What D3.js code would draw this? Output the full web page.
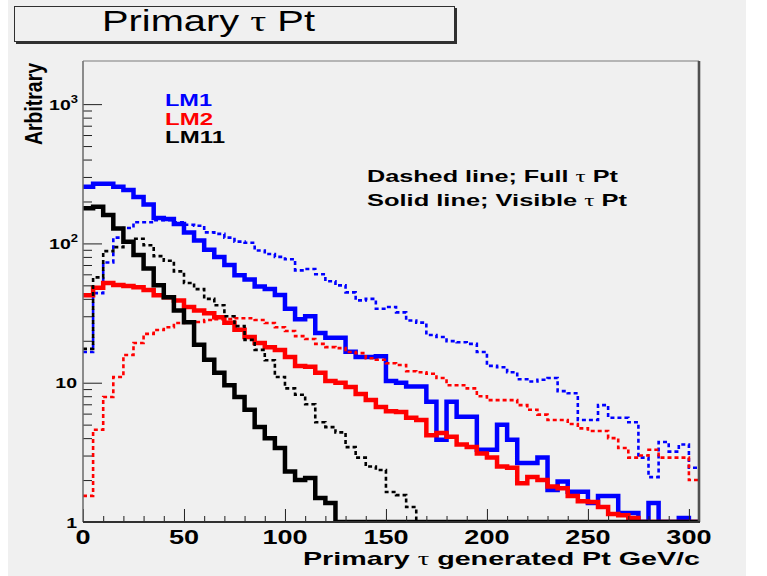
<!DOCTYPE html>
<html>
<head>
<meta charset="utf-8">
<script src="https://cdn.jsdelivr.net/npm/d3@7"></script>
<style>
  html, body { margin: 0; padding: 0; background: #ffffff; }
</style>
</head>
<body>
<svg id="chart" width="767" height="576"></svg>
<script>
// Histogram binning: 5 GeV/c bins from 0 to 305 GeV/c
const binWidth = 5;
const xMax = 305;

// LM1 (blue): visible tau Pt (solid) and full tau Pt (dashed)
const lm1Visible = [255, 268, 268, 255, 242, 215, 190, 152, 150, 138,
                    120, 105, 90, 80, 70, 59, 55, 49, 47, 42.6,
                    34, 28.5, 30, 22.7, 21, 21, 16.7, 15.3, 15.3, 15.5,
                    10.3, 10, 9.4, 9.4, 7.3, 3.9, 7.3, 5.7, 5.7, 3.3,
                    3.3, 5.0, 3.9, 2.65, 2.65, 2.9, 1.7, 1.95, 1.65, 1.65,
                    1.37, 1.54, 1.54, 1.16, 1.16, 0, 1.37, 0, 0, 1.07, 0];
const lm1Full = [16.6, 44, 73, 110, 129, 142, 142, 147, 147, 142,
                 136, 134, 120, 117, 110, 103, 101, 89, 84, 80,
                 77, 64, 65.5, 60, 53.5, 50, 44.5, 39, 40, 34,
                 35, 32, 28, 27, 22, 21.3, 19.9, 19.5, 19, 16.6,
                 13.2, 12.9, 11.9, 10.6, 10.2, 10.5, 10.8, 8.7, 8.4, 5.4,
                 5.4, 6.9, 5.6, 5.6, 5.2, 2.9, 2.1, 3.75, 3.2, 3.6, 2.45];

// LM2 (red)
const lm2Visible = [42.5, 48, 52, 50.3, 49.5, 48.5, 46.3, 42.5, 41, 39,
                    35, 33, 31.5, 29.5, 27, 24, 21.3, 19.3, 18, 17.2,
                    15.3, 13.2, 13, 11.8, 10.3, 10, 9.3, 8.3, 7.5, 6.7,
                    6.25, 6.15, 5.6, 5.4, 4.2, 4.35, 4.1, 3.6, 3.45, 3.1,
                    2.9, 2.5, 2.45, 1.9, 2.1, 2.0, 1.8, 1.75, 1.54, 1.41,
                    1.39, 1.28, 1.14, 1.12, 1.07, 0, 0, 0, 0, 0, 0];
const lm2Full = [1.54, 4.6, 7.9, 11, 15.8, 19.3, 22.4, 23.9, 25, 26.8,
                 27.3, 27.3, 28.2, 28.6, 28.6, 29, 29, 28.2, 26.8, 25,
                 23.5, 21.6, 20.6, 19, 18, 17.7, 16.6, 16.3, 15, 14.6,
                 13.8, 13.4, 12.1, 11.9, 11.6, 10.8, 9.6, 9.6, 9.1, 8.0,
                 7.5, 7.5, 7.5, 6.9, 6.4, 5.9, 5.4, 5.4, 5.05, 4.7,
                 4.5, 4.5, 4.0, 3.4, 2.9, 3.0, 3.3, 2.9, 2.9, 2.9, 2.0];

// LM11 (black)
const lm11Visible = [179, 183, 160, 128, 103, 82.6, 66, 50, 41, 33,
                     27.2, 18.7, 14.6, 11.8, 9.6, 7.9, 6.4, 4.8, 4.0, 3.4,
                     2.3, 2.0, 2.07, 1.49, 1.37, 0, 0, 0, 0, 0,
                     0, 0, 0, 0, 0, 0, 0, 0, 0, 0,
                     0, 0, 0, 0, 0, 0, 0, 0, 0, 0,
                     0, 0, 0, 0, 0, 0, 0, 0, 0, 0, 0];
const lm11Full = [17.5, 57, 88, 94, 103, 108, 97, 81, 75, 63,
                  52, 47, 40, 36, 30, 25.5, 20.3, 17.2, 14.5, 11,
                  9.1, 8.2, 7.0, 5.2, 4.8, 4.4, 3.45, 2.9, 2.5, 2.36,
                  1.64, 1.56, 1.28, 0, 0, 0, 0, 0, 0, 0,
                  0, 0, 0, 0, 0, 0, 0, 0, 0, 0,
                  0, 0, 0, 0, 0, 0, 0, 0, 0, 0, 0];

// Axis ticks and labels
const xMajorTicks = [0, 50, 100, 150, 200, 250, 300];
const xTickLabels = ["0", "50", "100", "150", "200", "250", "300"];
const xMinorTicks = [10, 20, 30, 40, 60, 70, 80, 90, 110, 120, 130, 140, 160, 170, 180, 190,
                     210, 220, 230, 240, 260, 270, 280, 290];
const yMajorTicks = [1, 10, 100, 1000];
const yTickLabels = ["1", "10", "10^2", "10^3"];
const yMinorTicks = [2, 3, 4, 5, 6, 7, 8, 9, 20, 30, 40, 50, 60, 70, 80, 90,
                     200, 300, 400, 500, 600, 700, 800, 900];

// Legend entries
const legendNames = ["LM1", "LM2", "LM11"];

// ---------------------------------------------------------------------------
const colors = { LM1: "#0000ff", LM2: "#ff0000", LM11: "#000000" };
const SANS = "'Liberation Sans', Arial, Helvetica, sans-serif";
const SERIF = "'Liberation Serif', 'Times New Roman', serif";
const BG = "#f0f0f0";

const svg = d3.select("#chart");
const L = 83, R = 699, T = 61, B = 522;

const x = d3.scaleLinear().domain([0, xMax]).range([L, R]);
const y = d3.scaleLog().domain([1, 2040]).range([B, T]);

// canvas
svg.append("rect").attr("x", 8).attr("y", 0).attr("width", 738).attr("height", 576).attr("fill", BG);

// text helper: writes a string, switching to a serif face for the Greek tau
function addText(parent, o) {
  let tf = `translate(${o.x},${o.y})`;
  if (o.sx) tf += ` scale(${o.sx},1)`;
  if (o.rotate) tf += ` rotate(${o.rotate})`;
  const t = parent.append("text")
    .attr("transform", tf)
    .attr("font-family", SANS)
    .attr("font-size", o.size)
    .attr("font-weight", o.weight || "normal")
    .attr("fill", o.fill || "#000")
    .attr("text-anchor", o.anchor || "start");
  o.text.split(/(τ)/).forEach(part => {
    if (!part) return;
    const ts = t.append("tspan").text(part);
    if (part === "τ") ts.attr("font-family", SERIF).attr("font-weight", "normal");
  });
  if (o.length) t.attr("textLength", o.length).attr("lengthAdjust", "spacingAndGlyphs");
  return t;
}

// title box with shadow
const titleG = svg.append("g");
titleG.append("rect").attr("x", 16).attr("y", 8).attr("width", 441).attr("height", 36).attr("fill", "#303030");
titleG.append("rect").attr("x", 14.5).attr("y", 6.5).attr("width", 440).attr("height", 35)
  .attr("fill", BG).attr("stroke", "#303030").attr("stroke-width", 1);
addText(titleG, { x: 102, y: 31, text: "Primary τ Pt", size: 29, length: 213 });

// histograms
const clip = svg.append("clipPath").attr("id", "plotClip");
clip.append("rect").attr("x", L).attr("y", T).attr("width", R - L).attr("height", B - T + 1);

const step = d3.line()
  .x(d => x(d[0]))
  .y(d => y(Math.max(d[1], 1)))
  .curve(d3.curveStepAfter);

function histPoints(values) {
  const pts = values.map((v, i) => [i * binWidth, v]);
  pts.push([xMax, values[values.length - 1]]);
  return pts;
}

const series = [
  { name: "LM1", values: lm1Visible, dashed: false },
  { name: "LM1", values: lm1Full, dashed: true },
  { name: "LM2", values: lm2Visible, dashed: false },
  { name: "LM2", values: lm2Full, dashed: true },
  { name: "LM11", values: lm11Visible, dashed: false },
  { name: "LM11", values: lm11Full, dashed: true }
];

const plotG = svg.append("g").attr("clip-path", "url(#plotClip)");
plotG.selectAll("path.hist")
  .data(series)
  .join("path")
  .attr("class", "hist")
  .attr("d", d => step(histPoints(d.values)))
  .attr("fill", "none")
  .attr("stroke", d => colors[d.name])
  .attr("stroke-width", d => d.dashed ? 2.6 : 4.5)
  .attr("stroke-dasharray", d => d.dashed ? "4,3" : null)
  .attr("stroke-linejoin", "miter");

// axes ticks (pointing into the frame)
function styleAxis(g) {
  g.select(".domain").remove();
  g.selectAll(".tick line").attr("stroke", "#202020").attr("stroke-width", 1);
  g.selectAll(".tick text").remove();
}
svg.append("g").attr("transform", `translate(0,${B})`)
  .call(d3.axisBottom(x).tickValues(xMinorTicks).tickSize(-6)).call(styleAxis);
svg.append("g").attr("transform", `translate(0,${B})`)
  .call(d3.axisBottom(x).tickValues(xMajorTicks).tickSize(-13)).call(styleAxis);
svg.append("g").attr("transform", `translate(${L},0)`)
  .call(d3.axisLeft(y).tickValues(yMinorTicks).tickSize(-9)).call(styleAxis);
svg.append("g").attr("transform", `translate(${L},0)`)
  .call(d3.axisLeft(y).tickValues(yMajorTicks).tickSize(-19)).call(styleAxis);

// frame
svg.append("line").attr("x1", L).attr("x2", L).attr("y1", T).attr("y2", B).attr("stroke", "#6a6a6a").attr("stroke-width", 1.5);
svg.append("line").attr("x1", L).attr("x2", R).attr("y1", T).attr("y2", T).attr("stroke", "#7a7a7a").attr("stroke-width", 1.2);
svg.append("line").attr("x1", R).attr("x2", R).attr("y1", T).attr("y2", B).attr("stroke", "#505050").attr("stroke-width", 2.6);
svg.append("line").attr("x1", L).attr("x2", R + 1).attr("y1", B).attr("y2", B).attr("stroke", "#303030").attr("stroke-width", 2);

// x tick labels
xMajorTicks.forEach((v, i) => {
  addText(svg, { x: x(v), y: 543.5, text: xTickLabels[i], size: 20.5, weight: "bold", anchor: "middle", sx: 1.32 });
});

// y tick labels (with superscript exponents)
yMajorTicks.forEach((v, i) => {
  const [base, exp] = yTickLabels[i].split("^");
  const t = svg.append("text")
    .attr("transform", `translate(${exp ? 78 : 77},${y(v) + 5.5}) scale(1.3,1)`)
    .attr("font-family", SANS).attr("font-weight", "bold").attr("font-size", 15)
    .attr("text-anchor", "end").attr("fill", "#000");
  t.append("tspan").text(base);
  if (exp) t.append("tspan").attr("font-size", 10).attr("dy", -7).text(exp);
});

// axis titles
addText(svg, { x: 303, y: 565, text: "Primary τ generated Pt GeV/c", size: 19, weight: "bold", length: 397 });
addText(svg, { x: 42, y: 145, text: "Arbitrary", size: 18.5, weight: "bold", sx: 1.3, rotate: -90, length: 82 });

// legend labels
const legendBase = [106, 124.5, 143];
const legendWidth = [47, 48, 60];
legendNames.forEach((n, i) => {
  addText(svg, { x: 165, y: legendBase[i], text: n, size: 17, weight: "bold", fill: colors[n], length: legendWidth[i] });
});

// line-style notes
addText(svg, { x: 367, y: 182, text: "Dashed line; Full τ Pt", size: 17, weight: "bold", length: 251 });
addText(svg, { x: 367, y: 206, text: "Solid line; Visible τ Pt", size: 17, weight: "bold", length: 260 });
</script>
</body>
</html>
